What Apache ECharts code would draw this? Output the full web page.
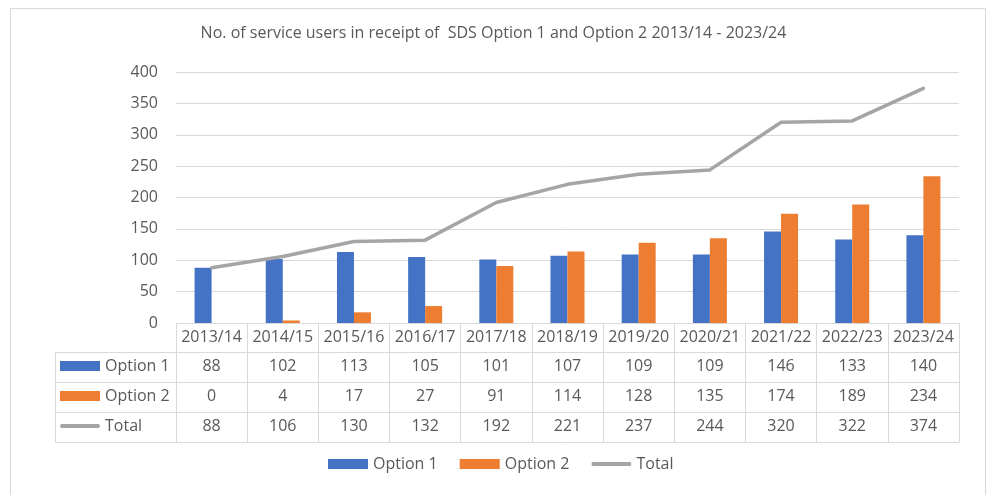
<!DOCTYPE html>
<html>
<head>
<meta charset="utf-8">
<script src="https://cdn.jsdelivr.net/npm/echarts@6/dist/echarts.min.js"></script>
<style>html,body{margin:0;padding:0;background:#fff}#c{width:987px;height:495px}</style>
</head>
<body>
<div id="c"></div>
<script>
const categories = ['2013/14','2014/15','2015/16','2016/17','2017/18','2018/19','2019/20','2020/21','2021/22','2022/23','2023/24'];
const option1 = [88,102,113,105,101,107,109,109,146,133,140];
const option2 = [0,4,17,27,91,114,128,135,174,189,234];
const total = [88,106,130,132,192,221,237,244,320,322,374];
const yTicks = [0,50,100,150,200,250,300,350,400];
const seriesNames = ['Option 1','Option 2','Total'];

const FONT = 'Open Sans';
const TXT = '#595959';
const BORDER = '#D9D9D9';
const GL = 176, GR = 28, GT = 72, GB = 172;
const H = 495;
const baseY = H - GB;          // 323
const rowOff = [0, 29, 59, 89, 119];
const tableLeft = 55;
const FS = 16;

const rows = [categories, option1, option2, total];
const xAxes = rows.map((vals, i) => ({
  type: 'category', gridIndex: 0, position: 'bottom', offset: rowOff[i],
  data: categories,
  axisLine: {show: true, lineStyle: {color: BORDER, width: 1}},
  axisTick: {show: true, interval: 0, length: rowOff[i+1] - rowOff[i], lineStyle: {color: BORDER}},
  axisLabel: {interval: 0, margin: 6, color: TXT, fontFamily: FONT, fontSize: FS,
    formatter: (v, idx) => String(vals[idx])}
}));
xAxes.push({
  type: 'category', gridIndex: 0, position: 'bottom', offset: rowOff[4], data: categories,
  axisLine: {show: true, lineStyle: {color: BORDER}}, axisTick: {show: false}, axisLabel: {show: false}
});

const graphics = [
  {type: 'rect', shape: {x: 10.5, y: 8.5, width: 975, height: 500}, style: {fill: 'none', stroke: BORDER, lineWidth: 1}, silent: true}
];
for (let i = 1; i <= 4; i++) {
  const y = baseY + rowOff[i] + 0.5;
  graphics.push({type: 'line', shape: {x1: tableLeft, y1: y, x2: GL, y2: y}, style: {stroke: BORDER, lineWidth: 1}, silent: true});
}
graphics.push({type: 'line', shape: {x1: tableLeft + 0.5, y1: baseY + rowOff[1], x2: tableLeft + 0.5, y2: baseY + rowOff[4]}, style: {stroke: BORDER, lineWidth: 1}, silent: true});

const lineIcon = 'path://M2,0 L40,0 A2,2 0 0 1 40,4 L2,4 A2,2 0 0 1 2,0 Z';
const legendData = [
  {name: seriesNames[0], icon: 'rect'},
  {name: seriesNames[1], icon: 'rect'},
  {name: seriesNames[2], icon: lineIcon, itemStyle: {color: '#A5A5A5'}}
];

const chart = echarts.init(document.getElementById('c'), null, {renderer: 'canvas'});
chart.setOption({
  animation: false,
  backgroundColor: '#fff',
  color: ['#4472C4', '#ED7D31', '#A5A5A5'],
  title: {
    text: 'No. of service users in receipt of  SDS Option 1 and Option 2 2013/14 - 2023/24',
    left: 'center', top: 25, padding: 0,
    textStyle: {color: TXT, fontFamily: FONT, fontSize: 16, fontWeight: 'normal'}
  },
  grid: {left: GL, right: GR, top: GT, bottom: GB, containLabel: false},
  legend: [
    {orient: 'vertical', left: 60, top: 351, padding: 0, itemGap: 0, itemWidth: 40, itemHeight: 10,
     data: legendData, selectedMode: false,
     textStyle: {color: TXT, fontFamily: FONT, fontSize: FS, lineHeight: 30}},
    {orient: 'horizontal', left: 328, top: 456, padding: 0, itemGap: 22, itemWidth: 40, itemHeight: 10,
     data: legendData, selectedMode: false,
     textStyle: {color: TXT, fontFamily: FONT, fontSize: FS}}
  ],
  xAxis: xAxes,
  yAxis: {
    type: 'value', min: yTicks[0], max: yTicks[yTicks.length - 1], interval: yTicks[1] - yTicks[0],
    axisLine: {show: false}, axisTick: {show: false},
    splitLine: {lineStyle: {color: BORDER, width: 1}},
    axisLabel: {color: TXT, fontFamily: FONT, fontSize: FS, margin: 18}
  },
  series: [
    {name: seriesNames[0], type: 'bar', data: option1, barWidth: 17, barGap: '0%', xAxisIndex: 0},
    {name: seriesNames[1], type: 'bar', data: option2, barWidth: 17, barGap: '0%', xAxisIndex: 0},
    {name: seriesNames[2], type: 'line', data: total, symbol: 'none', xAxisIndex: 0,
     lineStyle: {width: 3.5, color: '#A5A5A5', join: 'round', cap: 'round'}}
  ],
  graphic: graphics
});
</script>
</body>
</html>
